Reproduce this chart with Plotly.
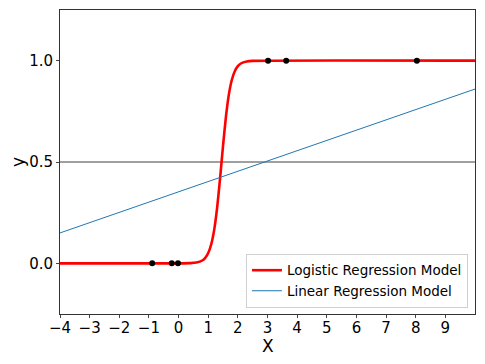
import plotly.graph_objects as go

# logistic model curve
logit_x = [-4, 0.0, 0.4, 0.6, 0.8, 0.9, 1.0, 1.1, 1.2, 1.3, 1.4, 1.5, 1.6, 1.7,
           1.8, 1.9, 2.0, 2.1, 2.3, 2.5, 10]
logit_y = [0.0, 0.0, 0.001, 0.004, 0.014, 0.027, 0.051, 0.093, 0.164, 0.274, 0.419,
           0.581, 0.726, 0.836, 0.907, 0.949, 0.973, 0.986, 0.996, 0.999, 1.0]

# linear model line end points
lin_x = [-4, 10]
lin_y = [0.15, 0.86]

# observed samples
pts_x = [-0.89, -0.23, -0.02, 3.02, 3.63, 8.04]
pts_y = [0, 0, 0, 1, 1, 1]

x_ticks = list(range(-4, 10))
y_ticks = [0.0, 0.5, 1.0]

FONT = "DejaVu Sans"

fig = go.Figure()

fig.add_trace(go.Scatter(
    x=logit_x, y=logit_y, mode="lines",
    line=dict(color="#ff0000", width=2.6, shape="spline", smoothing=0.6),
    name="Logistic Regression Model",
))
fig.add_trace(go.Scatter(
    x=lin_x, y=lin_y, mode="lines",
    line=dict(color="#1f77b4", width=1),
    name="Linear Regression Model",
))
fig.add_trace(go.Scatter(
    x=pts_x, y=pts_y, mode="markers",
    marker=dict(color="black", size=6),
    showlegend=False,
))

# threshold line
fig.add_hline(y=0.5, line=dict(color="#808080", width=1.5), layer="below")

# axis titles placed by hand (page has an 8px body margin)
fig.add_annotation(text="X", x=0.5, y=-0.106, xref="paper", yref="paper",
                   showarrow=False, font=dict(size=17), yanchor="middle")
fig.add_annotation(text="y", x=-0.101, y=0.5, xref="paper", yref="paper",
                   showarrow=False, font=dict(size=17), textangle=-90,
                   xanchor="center", yanchor="middle")

fig.update_layout(
    width=477, height=356,
    margin=dict(l=52, r=10, t=2, b=50),
    plot_bgcolor="white", paper_bgcolor="white",
    font=dict(family=FONT, size=15, color="black"),
    legend=dict(
        x=0.983, y=0.02, xanchor="right", yanchor="bottom",
        bgcolor="rgba(255,255,255,0.8)", bordercolor="#d0d0d0", borderwidth=1,
        font=dict(size=13.5), tracegroupgap=0,
    ),
)
fig.update_xaxes(
    range=[-4, 10], tickvals=x_ticks, ticks="outside", ticklen=3,
    ticklabelstandoff=-3,
    showgrid=False, zeroline=False, showline=True, linecolor="#333", mirror=True,
    automargin=False,
)
fig.update_yaxes(
    range=[-0.25, 1.25], tickvals=y_ticks, tickformat=".1f", ticks="outside", ticklen=3,
    showgrid=False, zeroline=False, showline=True, linecolor="#333", mirror=True,
    automargin=False,
)

fig.write_html("out.html")
